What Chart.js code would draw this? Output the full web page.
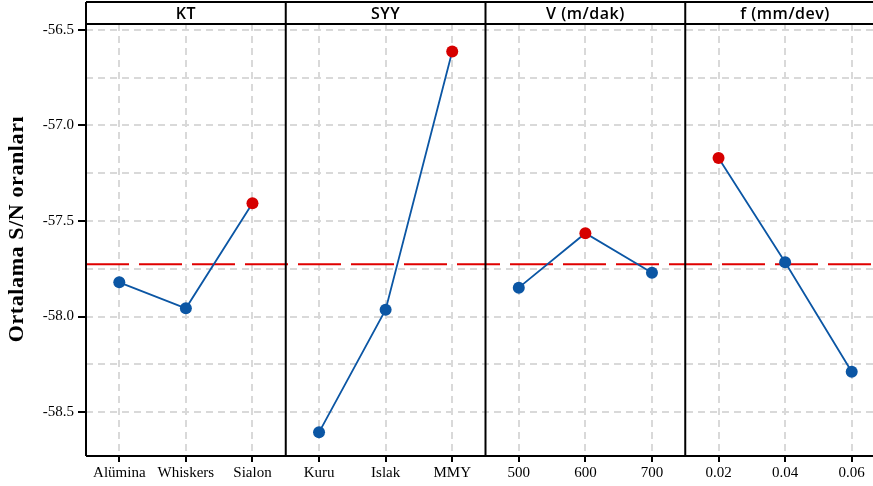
<!DOCTYPE html>
<html>
<head>
<meta charset="utf-8">
<script src="https://cdn.jsdelivr.net/npm/chart.js@4/dist/chart.umd.min.js"></script>
<style>
  html, body { margin: 0; padding: 0; background: #fff; overflow: hidden; }
  #wrap { width: 891px; height: 486px; }
</style>
</head>
<body>
<div id="wrap"><canvas id="chart" width="891" height="486"></canvas></div>
<script>
// factor levels (x tick labels per panel)
const factorNames = ['KT', 'SYY', 'V (m/dak)', 'f (mm/dev)'];
const ktLevels = ['Alümina', 'Whiskers', 'Sialon'];
const syyLevels = ['Kuru', 'Islak', 'MMY'];
const vLevels = ['500', '600', '700'];
const fLevels = ['0.02', '0.04', '0.06'];

// mean S/N ratios
const ktMeans = [-57.821, -57.957, -57.407];
const syyMeans = [-58.606, -57.964, -56.613];
const vMeans = [-57.849, -57.564, -57.771];
const fMeans = [-57.170, -57.716, -58.289];
const overallMean = -57.727;

// y axis
const yTicks = [-58.5, -58.25, -58.0, -57.75, -57.5, -57.25, -57.0, -56.75, -56.5];
const yMin = -58.73;
const yMax = -56.469;
const yTitle = 'Ortalama S/N oranları';

const BLUE = '#0b56a4';
const RED = '#d60000';

const levelGroups = [ktLevels, syyLevels, vLevels, fLevels];
const meanGroups = [ktMeans, syyMeans, vMeans, fMeans];
const labels = [].concat(...levelGroups);

// one dataset per panel, padded with nulls so the lines don't join across panels
const datasets = meanGroups.map((vals, g) => {
  const data = labels.map(() => null);
  vals.forEach((v, i) => { data[g * 3 + i] = v; });
  const best = Math.max(...vals);
  return {
    data: data,
    borderColor: BLUE,
    borderWidth: 1.8,
    pointRadius: 6,
    pointHoverRadius: 6,
    pointBorderWidth: 0,
    pointBackgroundColor: data.map(v => v === best ? RED : BLUE),
    spanGaps: false,
  };
});

const isMajor = v => Math.abs(v * 2 - Math.round(v * 2)) < 1e-6;

const facets = {
  id: 'facets',
  beforeDatasetsDraw(chart) {
    const { ctx, chartArea } = chart;
    const y = chart.scales.y.getPixelForValue(overallMean);
    ctx.save();
    ctx.strokeStyle = '#e00000';
    ctx.lineWidth = 2;
    ctx.setLineDash([43, 10]);
    ctx.beginPath();
    ctx.moveTo(chartArea.left, y);
    ctx.lineTo(chartArea.right, y);
    ctx.stroke();
    ctx.restore();
  },
  afterDraw(chart) {
    const { ctx, chartArea } = chart;
    const xs = chart.scales.x;
    const stripTop = 2;
    const edges = [chartArea.left];
    for (let g = 1; g < levelGroups.length; g++) {
      edges.push((xs.getPixelForTick(g * 3 - 1) + xs.getPixelForTick(g * 3)) / 2);
    }
    edges.push(chartArea.right);

    ctx.save();
    ctx.strokeStyle = '#000';
    ctx.lineWidth = 2;
    ctx.beginPath();
    edges.forEach(x => { ctx.moveTo(x, stripTop); ctx.lineTo(x, chartArea.bottom); });
    ctx.moveTo(chartArea.left, stripTop); ctx.lineTo(chartArea.right, stripTop);
    ctx.moveTo(chartArea.left, chartArea.top); ctx.lineTo(chartArea.right, chartArea.top);
    ctx.moveTo(chartArea.left, chartArea.bottom); ctx.lineTo(chartArea.right, chartArea.bottom);
    ctx.stroke();

    // strip titles
    ctx.fillStyle = '#000';
    ctx.font = '600 16px "Open Sans"';
    ctx.letterSpacing = '0.5px';
    ctx.textAlign = 'center';
    ctx.textBaseline = 'middle';
    factorNames.forEach((name, i) => {
      ctx.fillText(name, (edges[i] + edges[i + 1]) / 2, (stripTop + chartArea.top) / 2 + 1);
    });

    // y title, centred on panel + strip
    ctx.translate(17.5, (stripTop + chartArea.bottom) / 2);
    ctx.rotate(-Math.PI / 2);
    ctx.font = 'bold 22px "Liberation Serif"';
    ctx.letterSpacing = '0.6px';
    ctx.fillText(yTitle, 0, 0);
    ctx.restore();
  }
};

new Chart(document.getElementById('chart'), {
  type: 'line',
  data: { labels: labels, datasets: datasets },
  options: {
    responsive: false,
    animation: false,
    events: [],
    layout: { padding: { top: 24, right: 2, left: 0, bottom: 0 } },
    plugins: { legend: { display: false }, tooltip: { enabled: false } },
    scales: {
      x: {
        type: 'category',
        offset: true,
        afterFit: s => { s.height = 30; s.paddingLeft = 0; s.paddingRight = 0; },
        grid: {
          offset: false,
          color: '#d9d9d9',
          lineWidth: 2,
          tickColor: '#000',
          tickWidth: 2,
          tickLength: 6,
          tickBorderDash: [],
        },
        border: { display: false, dash: [7, 5] },
        ticks: {
          autoSkip: false,
          maxRotation: 0,
          padding: 2,
          color: '#000',
          font: { family: 'Liberation Serif', size: 15 },
        },
      },
      y: {
        type: 'linear',
        min: yMin,
        max: yMax,
        afterFit: s => { s.width = 86; },
        afterBuildTicks: s => { s.ticks = yTicks.map(v => ({ value: v })); },
        grid: {
          color: '#d9d9d9',
          lineWidth: 2,
          tickColor: c => (c.tick && isMajor(c.tick.value)) ? '#000' : 'rgba(0,0,0,0)',
          tickWidth: 2,
          tickLength: 8,
          tickBorderDash: [],
        },
        border: { display: false, dash: [7, 5] },
        ticks: {
          padding: 4,
          color: '#000',
          font: { family: 'Liberation Serif', size: 15 },
          callback: v => isMajor(v) ? v.toFixed(1) : '',
        },
      },
    },
  },
  plugins: [facets],
});
</script>
</body>
</html>
